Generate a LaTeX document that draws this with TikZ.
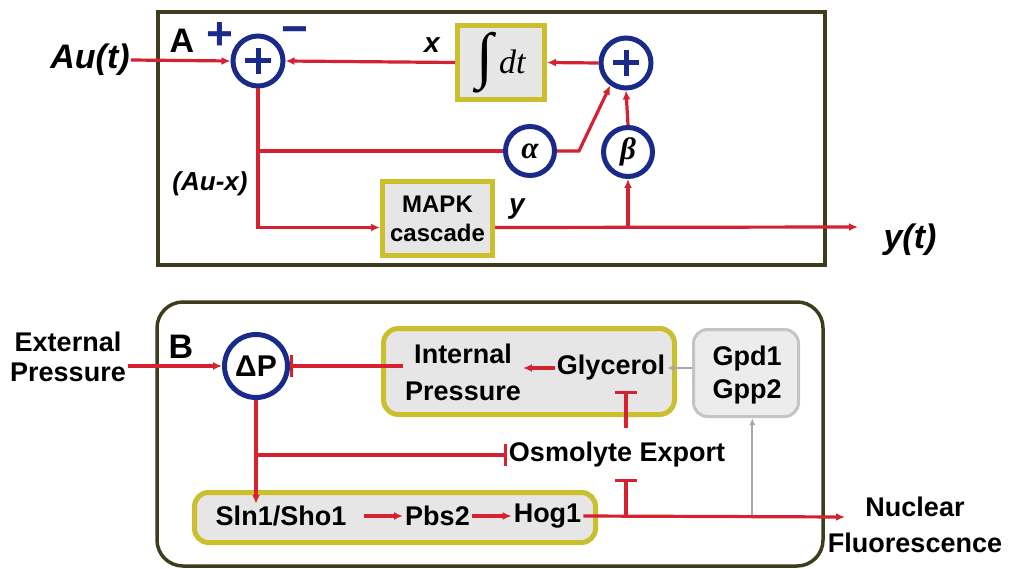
\documentclass[tikz,border=0pt]{standalone}
\usepackage{fontspec}
\setmainfont{Liberation Sans}
\newfontfamily\greekfont{Liberation Serif}
\usetikzlibrary{arrows.meta}

\definecolor{sigred}{HTML}{D42230}
\definecolor{sumblue}{HTML}{1A2A8A}
\definecolor{boxline}{HTML}{CBBF2E}
\definecolor{boxfill}{HTML}{E6E6E6}
\definecolor{frameline}{HTML}{3F3C1E}
\definecolor{gpdline}{HTML}{C4C4C4}
\definecolor{gpdfill}{HTML}{ECECEC}
\definecolor{gpdarrow}{HTML}{A8A8A8}

\tikzset{
  sig/.style={sigred, line width=3.2pt, -{Latex[length=9pt,width=8pt]}},
  sigline/.style={sigred, line width=3.2pt},
  inh/.style={sigred, line width=3.2pt, -{Bar[width=22pt]}},
  gsig/.style={gpdarrow, line width=2pt, -{Latex[length=7pt,width=6pt]}},
  panel/.style={draw=frameline, line width=3.5pt},
  sumnode/.style={circle, draw=sumblue, line width=5pt, fill=white, inner sep=0pt, minimum size=#1},
  blockbox/.style={draw=boxline, line width=5pt, fill=boxfill, inner sep=0pt},
  gpdbox/.style={draw=gpdline, line width=3pt, fill=gpdfill, rounded corners=14pt, inner sep=0pt},
  lbl/.style={font=\fontsize{27}{35}\selectfont\bfseries, inner sep=2pt, align=center},
  var/.style={font=\fontsize{#1}{#1}\selectfont\bfseries\itshape, inner sep=1pt},
  panellbl/.style={font=\fontsize{34}{34}\selectfont\bfseries, inner sep=0pt},
}

\begin{document}
\begin{tikzpicture}[x=1pt, y=-1pt]
    \useasboundingbox (0,0) rectangle (1032,569);
    % Define dimensions
    \def\plusarm{13}
    % Panel A: integral feedback loop
    \begin{scope}
        \draw[panel] (158,12) rectangle (825,265);
        \node[panellbl] (lblA) at (182,41) {A};
        \node[text=sumblue, font=\fontsize{46}{46}\selectfont\bfseries, inner sep=0pt] (plusA) at (220,36) {+};
        \node[text=sumblue, font=\fontsize{46}{46}\selectfont\bfseries, inner sep=0pt] (minusA) at (295,36) {−};
        % Sum nodes, gains and blocks
        \node[sumnode=50pt] (sumA) at (258,61) {};
        \node[sumnode=50pt] (sumI) at (626,63) {};
        \node[sumnode=49pt, font=\fontsize{31}{31}\selectfont\greekfont\bfseries\itshape] (alpha) at (530,151) {α};
        \node[sumnode=49pt, font=\fontsize{31}{31}\selectfont\greekfont\bfseries\itshape] (beta) at (628,152) {β};
        \node[blockbox, minimum width=87pt, minimum height=74pt, font=\fontsize{34}{34}\selectfont\greekfont\itshape] (intg) at (501,62.5) {{\fontsize{62}{62}\selectfont\raisebox{-3pt}{∫}}\,dt};
        \node[blockbox, minimum width=110pt, minimum height=74pt, align=center, font=\fontsize{24}{29}\selectfont\bfseries] (mapk) at (437.5,218.5) {MAPK\\cascade};
        % Plus signs inside the sums
        \foreach \s in {sumA,sumI}
            \draw[sumblue, line width=5pt] ([xshift=-\plusarm pt]\s.center) -- ([xshift=\plusarm pt]\s.center)
                ([yshift=-\plusarm pt]\s.center) -- ([yshift=\plusarm pt]\s.center);
        % Signals
        \node[var=34] (au) at (90,60) {Au(t)};
        \node[var=34] (yout) at (910,240) {y(t)};
        \node[var=28] (xlab) at (432,45) {x};
        \node[var=28] (ylab) at (517,209) {y};
        \node[var=26] (aux) at (210,184) {(Au-x)};
        \coordinate (yend) at (858,227);
        \draw[sig] (au.east) -- (sumA.west);
        \draw[sig] (intg.west) -- (sumA.east);
        \draw[sig] (sumI.west) -- (intg.east);
        \draw[sig] (sumA.south) |- ([yshift=-9pt]mapk.west);
        \draw[sigline] (sumA.south |- alpha.west) -- (alpha.west);
        \draw[sig] (alpha.east) -- ++(22,0) -- (sumI.235);
        \draw[sig] (beta.north) -- (sumI.south);
        \draw[sig] ([yshift=-9pt]mapk.east) -- (yend);
        \draw[sig] ([yshift=-9pt]mapk.east -| beta.south) -- (beta.south);
    \end{scope}
    % Panel B: osmotic stress pathway
    \begin{scope}
        \draw[panel, rounded corners=26pt] (157,302) rectangle (823,566);
        \node[panellbl] (lblB) at (181,347) {B};
        \node[sumnode=63pt, font=\fontsize{30}{30}\selectfont\bfseries] (dP) at (256,366) {ΔP};
        \node[blockbox, rounded corners=15pt, minimum width=291pt, minimum height=86pt] (ipbox) at (529,371.5) {};
        \node[gpdbox, minimum width=105pt, minimum height=87pt] (gpdbox) at (746,373) {};
        \node[blockbox, rounded corners=14pt, minimum width=401pt, minimum height=50pt] (sbox) at (395,517.5) {};
        % Species
        \node[lbl, font=\fontsize{27}{30}\selectfont\bfseries] (ext) at (68,357) {External\\Pressure};
        \node[lbl, font=\fontsize{27}{37}\selectfont\bfseries] (ip) at (463,372) {Internal\\Pressure};
        \node[lbl] (gly) at (611,368) {Glycerol};
        \node[lbl, font=\fontsize{27}{33}\selectfont\bfseries] (gpd) at (747,375) {Gpd1\\Gpp2};
        \node[lbl] (osm) at (617,455) {Osmolyte Export};
        \node[lbl] (sln) at (281,516) {Sln1/Sho1};
        \node[lbl] (pbs) at (437.5,516) {Pbs2};
        \node[lbl] (hog) at (547.5,516) {Hog1};
        \node[lbl, font=\fontsize{27}{36}\selectfont\bfseries] (nuc) at (915,525) {Nuclear\\Fluorescence};
        \coordinate (osmx) at (626,0);
        \coordinate (nucin) at (845,517);
        % Connections
        \draw[sig] (ext.east |- dP.west) -- (dP.west);
        \draw[inh] (ip.west |- dP.east) -- (dP.east);
        \draw[sig] (gly.west) -- (ip.east |- gly.west);
        \draw[gsig] (gpdbox.west |- gly.east) -- (gly.east);
        \draw[inh] ([yshift=12pt]osm.north -| osmx) -- ([yshift=-8pt]gly.south -| osmx);
        \draw[sig] (dP.south) -- (dP.south |- sln.north);
        \draw[inh] (dP.south |- osm.west) -- (osm.west);
        \draw[sig, shorten <=16pt] (sln.east) -- (pbs.west);
        \draw[sig] (pbs.east) -- (hog.west);
        \draw[gsig] (hog.east -| gpdbox.-82) -- (gpdbox.-82);
        \draw[sig] (hog.east) -- (nucin);
        \draw[inh] (hog.east -| osmx) -- ([yshift=-9.5pt]osm.south -| osmx);
    \end{scope}
\end{tikzpicture}
\end{document}
